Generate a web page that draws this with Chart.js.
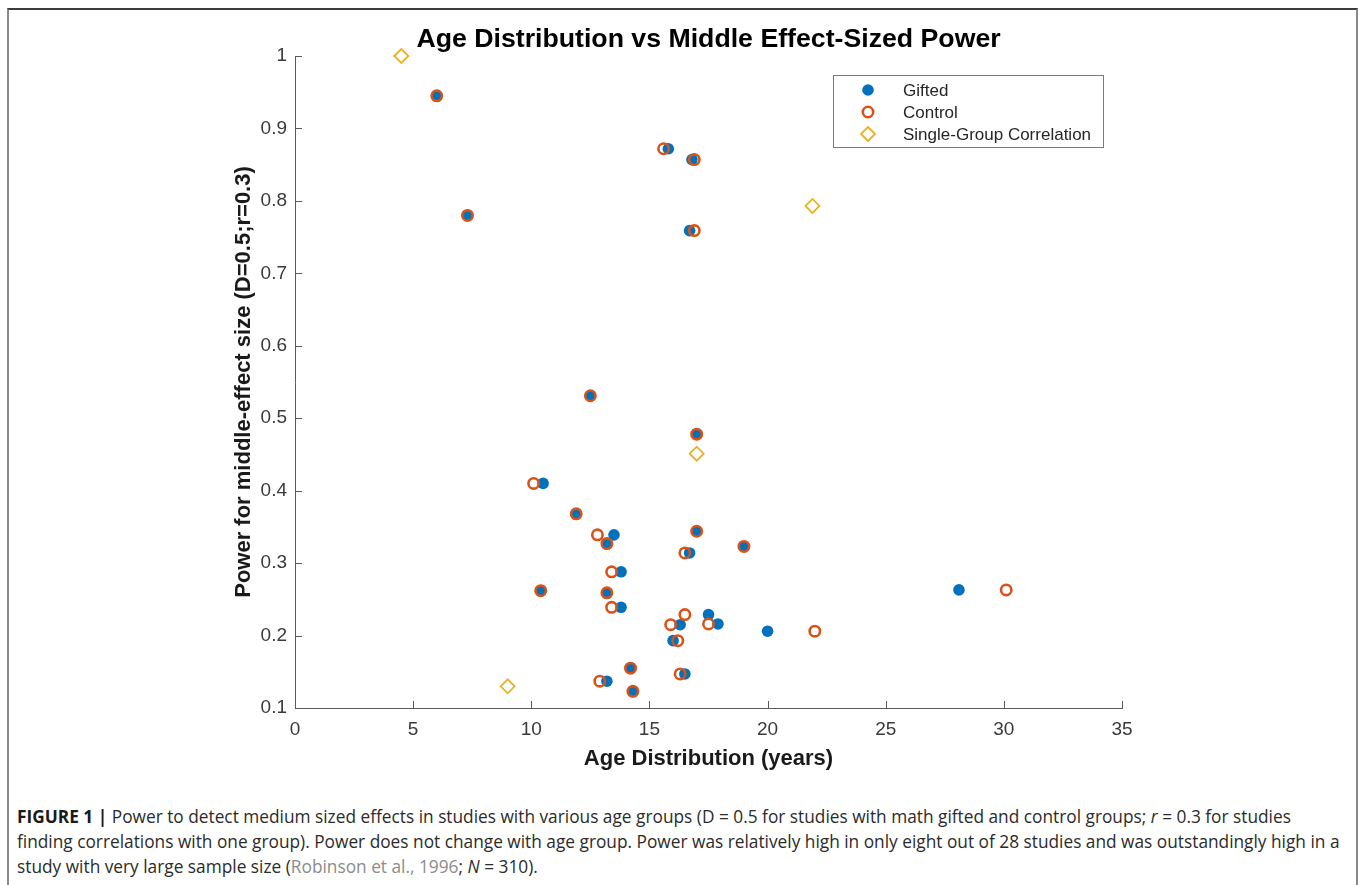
<!DOCTYPE html>
<html>
<head>
<meta charset="utf-8">
<script src="https://cdn.jsdelivr.net/npm/chart.js@4.4.1/dist/chart.umd.min.js"></script>
<style>
html, body { margin: 0; padding: 0; background: #fff; }
body { width: 1358px; height: 885px; position: relative; overflow: hidden; font-family: "Liberation Sans", Arial, sans-serif; }
.frame { position: absolute; left: 7px; top: 8px; width: 1347px; height: 900px; border-top: 2px solid #3c3c3c; border-left: 2px solid #8a8a8a; border-right: 2px solid #8a8a8a; }
#wrap { position: absolute; left: 0; top: 0; width: 1358px; height: 790px; }
.caption { position: absolute; left: 17px; top: 804px; font-family: "Open Sans", "Liberation Sans", sans-serif; font-size: 17.3px; line-height: 25px; color: #2b2b2b; white-space: nowrap; }
.caption b { font-weight: bold; color: #1a1a1a; }
.ref { color: #8c8c8c; }
</style>
</head>
<body>
<div class="frame"></div>
<div id="wrap"><canvas id="myChart"></canvas></div>
<div class="caption">
<b>FIGURE 1 |</b> Power to detect medium sized effects in studies with various age groups (D = 0.5 for studies with math gifted and control groups; <i>r</i> = 0.3 for studies<br>
finding correlations with one group). Power does not change with age group. Power was relatively high in only eight out of 28 studies and was outstandingly high in a<br>
study with very large sample size (<span class="ref">Robinson et al., 1996</span>; <i>N</i> = 310).
</div>
<script>
// значения
const giftedAge   = [6.0, 7.3, 15.8, 16.8, 16.7, 12.5, 17.0, 10.5, 11.9, 13.5, 13.2, 16.7, 13.8, 10.4, 13.2, 13.8, 16.3, 16.0, 14.2, 16.5, 13.2, 14.3, 17.0, 19.0, 28.1, 17.5, 17.9, 20.0];
const giftedPower = [0.945, 0.780, 0.872, 0.857, 0.759, 0.531, 0.478, 0.410, 0.368, 0.339, 0.327, 0.314, 0.288, 0.262, 0.259, 0.239, 0.215, 0.193, 0.155, 0.147, 0.137, 0.123, 0.344, 0.323, 0.263, 0.229, 0.216, 0.206];

const controlAge   = [6.0, 7.3, 15.6, 16.9, 16.9, 12.5, 17.0, 10.1, 11.9, 12.8, 13.2, 16.5, 13.4, 10.4, 13.2, 13.4, 15.9, 16.2, 14.2, 16.3, 12.9, 14.3, 17.0, 19.0, 30.1, 16.5, 17.5, 22.0];
const controlPower = [0.945, 0.780, 0.872, 0.857, 0.759, 0.531, 0.478, 0.410, 0.368, 0.339, 0.327, 0.314, 0.288, 0.262, 0.259, 0.239, 0.215, 0.193, 0.155, 0.147, 0.137, 0.123, 0.344, 0.323, 0.263, 0.229, 0.216, 0.206];

const singleAge   = [4.5, 21.9, 17.0, 9.0];
const singlePower = [1.0, 0.793, 0.451, 0.130];

const seriesNames = ['Gifted', 'Control', 'Single-Group Correlation'];
const chartTitle = 'Age Distribution vs Middle Effect-Sized Power';

const FONT = "'Liberation Sans', Helvetica, Arial, sans-serif";
const AXIS = '#5a5a5a';

function toPoints(xs, ys) {
    return xs.map((x, i) => ({x: x, y: ys[i]}));
}

// заголовок по центру области графика (встроенный центрует по всему холсту)
const plotTitle = {
    id: 'plotTitle',
    afterDraw(chart) {
        const {ctx, chartArea: a} = chart;
        ctx.save();
        ctx.font = 'bold 26.7px ' + FONT;
        ctx.fillStyle = '#000';
        ctx.textAlign = 'center';
        ctx.textBaseline = 'middle';
        ctx.fillText(chartTitle, (a.left + a.right) / 2, 40);
        ctx.restore();
    }
};

// засечки внутрь, как в матлабе
const inwardTicks = {
    id: 'inwardTicks',
    beforeDatasetsDraw(chart) {
        const {ctx, chartArea: a, scales: {x, y}} = chart;
        ctx.save();
        ctx.strokeStyle = AXIS;
        ctx.lineWidth = 1;
        ctx.beginPath();
        x.ticks.forEach(t => {
            const px = Math.round(x.getPixelForValue(t.value)) + 0.5;
            ctx.moveTo(px, a.bottom);
            ctx.lineTo(px, a.bottom - 7);
        });
        y.ticks.forEach(t => {
            const py = Math.round(y.getPixelForValue(t.value)) + 0.5;
            ctx.moveTo(a.left, py);
            ctx.lineTo(a.left + 7, py);
        });
        ctx.stroke();
        ctx.restore();
    }
};

// легенда в рамке внутри графика
const legendBox = {
    id: 'legendBox',
    afterDatasetsDraw(chart) {
        const ctx = chart.ctx;
        ctx.save();
        ctx.fillStyle = '#fff';
        ctx.fillRect(833, 75, 270, 72);
        ctx.strokeStyle = '#7a7a7a';
        ctx.lineWidth = 1;
        ctx.strokeRect(833.5, 75.5, 270, 72);
        ctx.font = '17px ' + FONT;
        ctx.textBaseline = 'middle';
        chart.data.datasets.forEach((ds, i) => {
            const y = 90 + i * 22;
            const mx = 868;
            ctx.beginPath();
            if (ds.pointStyle === 'rectRot') {
                const r = ds.pointRadius;
                ctx.moveTo(mx, y - r);
                ctx.lineTo(mx + r, y);
                ctx.lineTo(mx, y + r);
                ctx.lineTo(mx - r, y);
                ctx.closePath();
            } else {
                ctx.arc(mx, y, ds.pointRadius, 0, Math.PI * 2);
            }
            if (ds.pointBorderWidth > 0) {
                ctx.lineWidth = ds.pointBorderWidth;
                ctx.strokeStyle = ds.pointBorderColor;
                ctx.stroke();
            } else {
                ctx.fillStyle = ds.pointBackgroundColor;
                ctx.fill();
            }
            ctx.fillStyle = '#262626';
            ctx.fillText(ds.label, 903, y + 1);
        });
        ctx.restore();
    }
};

const ctx = document.getElementById('myChart').getContext('2d');
const myChart = new Chart(ctx, {
    type: 'scatter',
    data: {
        datasets: [{
            label: seriesNames[0],
            data: toPoints(giftedAge, giftedPower),
            pointStyle: 'circle',
            pointRadius: 5.8,
            pointBorderWidth: 0,
            pointBackgroundColor: '#0072BD',
            pointBorderColor: '#0072BD',
            clip: false,
            order: 2
        }, {
            label: seriesNames[1],
            data: toPoints(controlAge, controlPower),
            pointStyle: 'circle',
            pointRadius: 5.2,
            pointBorderWidth: 2.6,
            pointBackgroundColor: 'rgba(0,0,0,0)',
            pointBorderColor: '#D95319',
            clip: false,
            order: 1
        }, {
            label: seriesNames[2],
            data: toPoints(singleAge, singlePower),
            pointStyle: 'rectRot',
            pointRadius: 7,
            pointBorderWidth: 1.8,
            pointBackgroundColor: 'rgba(0,0,0,0)',
            pointBorderColor: '#EDB120',
            clip: false,
            order: 0
        }]
    },
    options: {
        responsive: true,
        maintainAspectRatio: false,
        animation: false,
        events: [],
        layout: {
            padding: {left: 220, right: 236, top: 56, bottom: 0}
        },
        plugins: {
            legend: {display: false},
            tooltip: {enabled: false},
            title: {display: false}
        },
        scales: {
            x: {
                type: 'linear',
                min: 0,
                max: 35,
                afterFit: s => { s.height = 82; },
                grid: {display: false, drawTicks: false},
                border: {display: true, color: AXIS, width: 1},
                ticks: {
                    stepSize: 5,
                    color: '#3a3a3a',
                    padding: 10,
                    maxRotation: 0,
                    font: {family: FONT, size: 19}
                },
                title: {
                    display: true,
                    text: 'Age Distribution (years)',
                    color: '#1a1a1a',
                    font: {family: FONT, size: 22, weight: 'bold', lineHeight: 1.2},
                    padding: {top: 0, bottom: 18}
                }
            },
            y: {
                type: 'linear',
                min: 0.1,
                max: 1,
                afterFit: s => { s.width = 75; },
                grid: {display: false, drawTicks: false},
                border: {display: true, color: AXIS, width: 1},
                ticks: {
                    stepSize: 0.1,
                    color: '#3a3a3a',
                    padding: 8,
                    font: {family: FONT, size: 19},
                    callback: v => String(Number(v.toFixed(1)))
                },
                title: {
                    display: true,
                    text: 'Power for middle-effect size (D=0.5;r=0.3)',
                    color: '#1a1a1a',
                    font: {family: FONT, size: 22, weight: 'bold', lineHeight: 1.2},
                    padding: {top: 11, bottom: 0}
                }
            }
        }
    },
    plugins: [inwardTicks, legendBox, plotTitle]
});
</script>
</body>
</html>
